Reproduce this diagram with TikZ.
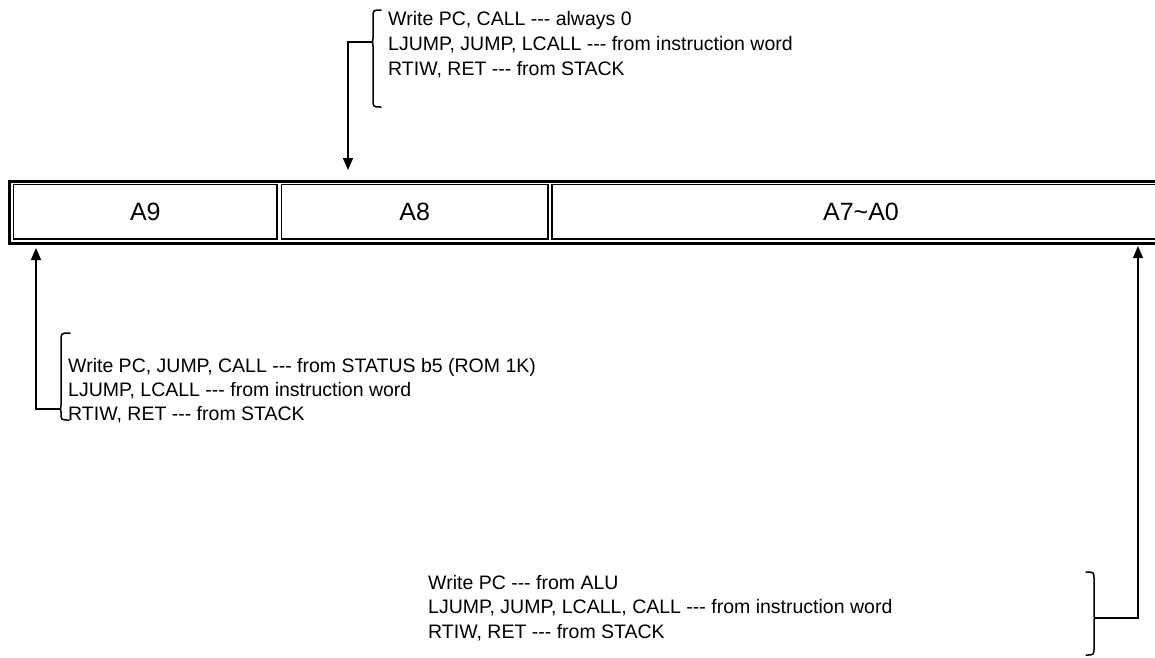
\documentclass[tikz,border=0pt]{standalone}
\usepackage{fontspec}
\setmainfont{Liberation Sans}[Ligatures=TeXOff]
\usetikzlibrary{arrows.meta}
\begin{document}
\begin{tikzpicture}[x=1pt,y=-1pt,
  txt/.style={anchor=base west, inner sep=0pt, font=\fontsize{19.5}{23}\selectfont},
  lbl/.style={inner sep=0pt, font=\fontsize{25}{29}\selectfont},
  cell/.style={draw, line width=1.5pt, minimum height=54.3pt, inner sep=0pt},
  conn/.style={line width=1.5pt},
  arr/.style={conn, -{Triangle[width=10pt,length=12pt]}},
  bracestyle/.style={line width=1.5pt, line cap=round}]
\useasboundingbox (0,0) rectangle (1155,657);
\clip (0,0) rectangle (1155,657);
% register outer border
\draw[line width=3pt] (1170,181) -- (9,181) -- (9,243) -- (1170,243);
% cells
\node[cell, minimum width=263.3pt] (c9) at (145.35,211.85) {};
\node[cell, minimum width=266.5pt] (c8) at (414.75,211.85) {};
\node[cell, minimum width=618pt] (c7) at (861,211.85) {};
\node[lbl] (l9) at (c9) {A9};
\node[lbl] (l8) at (c8) {A8};
\node[lbl] (l7) at (c7) {A7\char`~A0};
% top group
\node[txt] (t1) at (388,25) {Write PC, CALL --- always 0};
\node[txt] (t2) at (388,50) {LJUMP, JUMP, LCALL --- from instruction word};
\node[txt] (t3) at (388,75) {RTIW, RET --- from STACK};
\draw[bracestyle] (381,10) .. controls (373,10) .. (373,18) -- (373,38)
  .. controls (373,42) .. (369,42) .. controls (373,42) .. (373,46) -- (373,99)
  .. controls (373,107) .. (381,107);
\coordinate (tb) at (369,42);
\coordinate (ta) at (348,170);
\draw[arr] (tb) -| (ta);
% left group
\node[txt] (m1) at (68,372) {Write PC, JUMP, CALL --- from STATUS b5 (ROM 1K)};
\node[txt] (m2) at (68,396) {LJUMP, LCALL --- from instruction word};
\node[txt] (m3) at (68,420) {RTIW, RET --- from STACK};
\draw[bracestyle] (70,333) .. controls (61,333) .. (61,341) -- (61,405)
  .. controls (61,409) .. (58,409) .. controls (61,409) .. (61,412) -- (61,413)
  .. controls (61,420) .. (69,420);
\coordinate (mb) at (58,409);
\coordinate (ma) at (36,248);
\draw[arr] (mb) -| (ma);
% bottom group
\node[txt] (b1) at (428,589) {Write PC --- from ALU};
\node[txt] (b2) at (428,613) {LJUMP, JUMP, LCALL, CALL --- from instruction word};
\node[txt] (b3) at (428,638) {RTIW, RET --- from STACK};
\draw[bracestyle] (1086,572) .. controls (1094,572) .. (1094,580) -- (1094,614)
  .. controls (1094,618) .. (1097,618) .. controls (1094,618) .. (1094,622) -- (1094,647)
  .. controls (1094,655) .. (1086,655);
\coordinate (bb) at (1097,618);
\coordinate (ba) at (1138,246);
\draw[arr] (bb) -| (ba);
\end{tikzpicture}
\end{document}
